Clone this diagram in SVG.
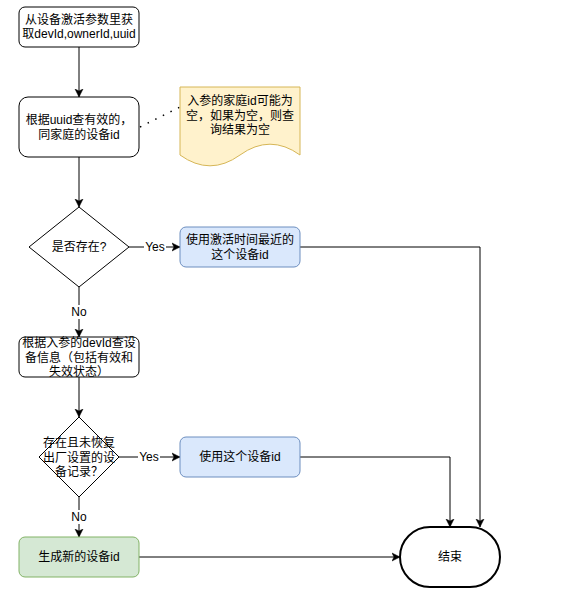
<svg xmlns="http://www.w3.org/2000/svg" width="577" height="594" viewBox="0 0 577 594">
<style>
text{font-family:"Liberation Sans","Noto Sans CJK SC",sans-serif;font-size:12px;fill:#000;text-anchor:middle;dominant-baseline:central}
.box{fill:#fff;stroke:#000;stroke-width:1}
.blue{fill:#dae8fc;stroke:#6c8ebf;stroke-width:1}
.green{fill:#d5e8d4;stroke:#82b366;stroke-width:1}
.note{fill:#fff2cc;stroke:#d6b656;stroke-width:1}
.edge{fill:none;stroke:#000;stroke-width:1;marker-end:url(#arr)}
.lbg{fill:#fff}
</style>
<defs>
<marker id="arr" markerUnits="userSpaceOnUse" markerWidth="10" markerHeight="10" refX="8" refY="4" orient="auto" viewBox="0 0 10 8">
<path d="M0,0 L8,4 L0,8 L2,4 Z" fill="#000" stroke="#000" stroke-width="0.5"/>
</marker>
</defs>
<rect width="577" height="594" fill="#fff"/>
<g id="connectors">
<path class="edge" d="M79,47 L79,97"/>
<path class="edge" d="M79,157 L79,207"/>
<path d="M140,127 L180,107" stroke="#000" stroke-width="1.5" stroke-dasharray="1.5 7" fill="none"/>
<path class="edge" d="M129,247 L180,247"/>
<rect class="lbg" x="144" y="240" width="22" height="14"/>
<text x="155" y="247">Yes</text>
<path class="edge" d="M79,287 L79,337"/>
<rect class="lbg" x="70" y="305" width="18" height="14"/>
<text x="79" y="312">No</text>
<path class="edge" d="M300,247 L480,247 L480,527"/>
<path class="edge" d="M79,377 L79,417"/>
<path class="edge" d="M119,457 L180,457"/>
<rect class="lbg" x="138" y="450" width="22" height="14"/>
<text x="149" y="457">Yes</text>
<path class="edge" d="M300,457 L450,457 L450,527"/>
<path class="edge" d="M79,497 L79,537"/>
<rect class="lbg" x="70" y="510" width="18" height="14"/>
<text x="79" y="517">No</text>
<path class="edge" d="M139,557 L400,557"/>
</g>
<g id="n1">
<rect class="box" x="19" y="7" width="120" height="40" rx="6"/>
<text x="79" y="20">从设备激活参数里获</text>
<text x="79" y="34">取devId,ownerId,uuid</text>
</g>
<g id="n2">
<rect class="box" x="19" y="97" width="120" height="60" rx="9"/>
<text x="79" y="120">根据uuid查有效的，</text>
<text x="79" y="135">同家庭的设备id</text>
</g>
<g id="note">
<path class="note" d="M180,87 L300,87 L300,155 Q270,133.4 240,155 Q210,176.6 180,155 Z"/>
<text x="240" y="101">入参的家庭id可能为</text>
<text x="240" y="115.5">空，如果为空，则查</text>
<text x="240" y="130">询结果为空</text>
</g>
<g id="d1">
<path class="box" d="M79,207 L129,247 L79,287 L29,247 Z"/>
<text x="79" y="247">是否存在?</text>
</g>
<g id="n3">
<rect class="blue" x="180" y="227" width="120" height="40" rx="6"/>
<text x="240" y="240">使用激活时间最近的</text>
<text x="240" y="255">这个设备id</text>
</g>
<g id="n4">
<rect class="box" x="19" y="337" width="120" height="40" rx="6"/>
<text x="79" y="343">根据入参的devId查设</text>
<text x="79" y="357.5">备信息（包括有效和</text>
<text x="79" y="372">失效状态）</text>
</g>
<g id="d2">
<path class="box" d="M79,417 L119,457 L79,497 L39,457 Z"/>
<text x="79" y="443">存在且未恢复</text>
<text x="79" y="457.5">出厂设置的设</text>
<text x="79" y="472">备记录？</text>
</g>
<g id="n5">
<rect class="blue" x="180" y="437" width="120" height="40" rx="6"/>
<text x="240" y="457">使用这个设备id</text>
</g>
<g id="n6">
<rect class="green" x="19" y="537" width="120" height="40" rx="6"/>
<text x="79" y="557">生成新的设备id</text>
</g>
<g id="end">
<rect x="400" y="527" width="100" height="60" rx="30" fill="#fff" stroke="#000" stroke-width="2"/>
<text x="450" y="557">结束</text>
</g>
</svg>
